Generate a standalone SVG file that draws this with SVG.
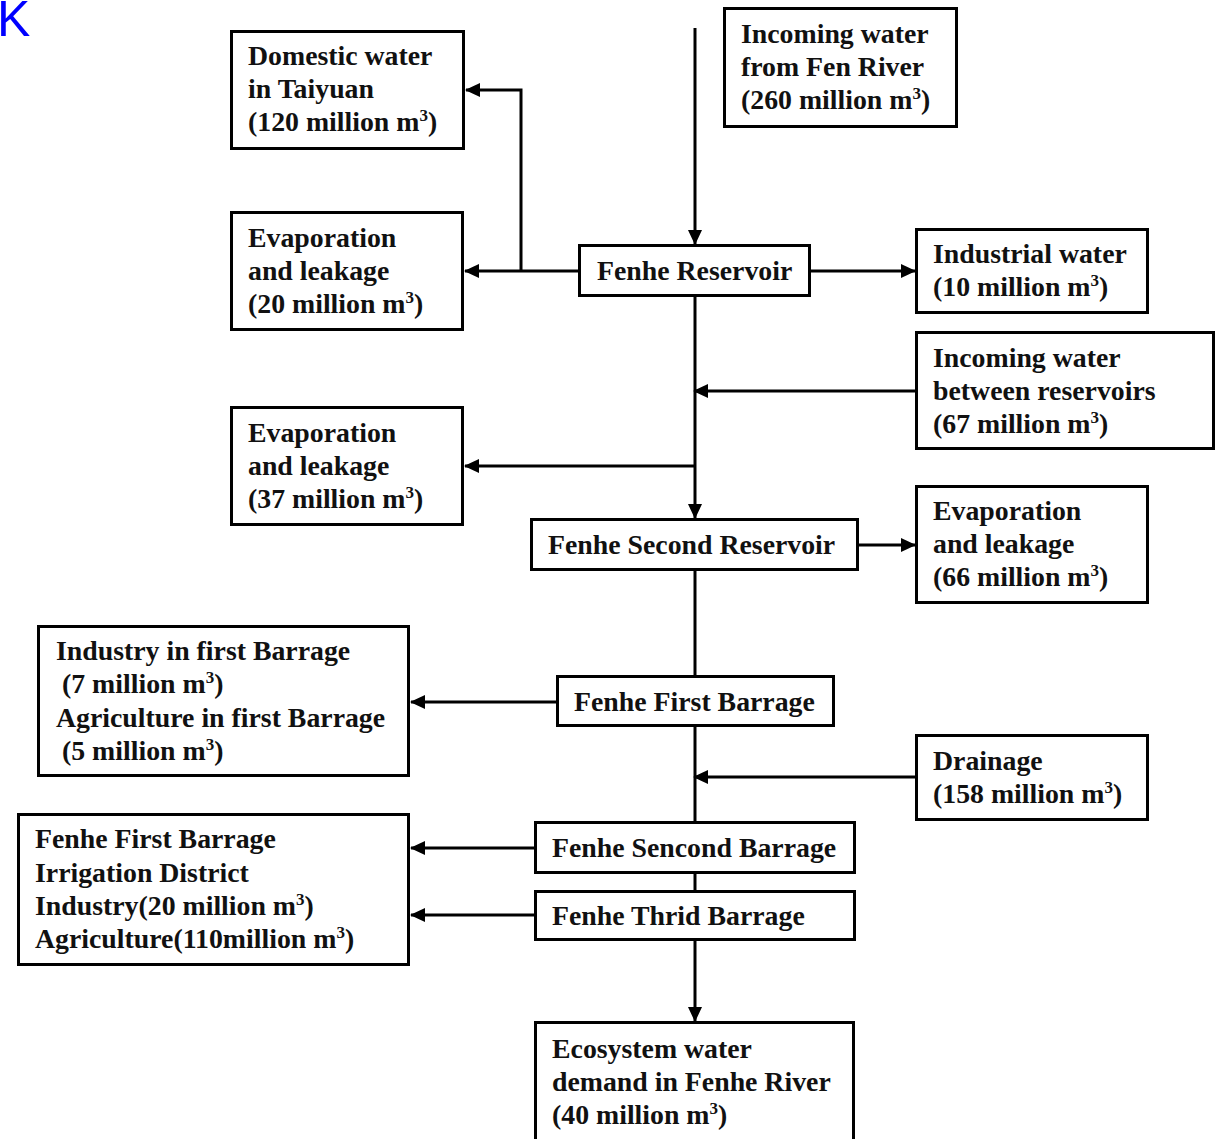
<svg xmlns="http://www.w3.org/2000/svg" width="1222" height="1139" viewBox="0 0 1222 1139">
  <style>
    .box { fill: #ffffff; stroke: #000000; stroke-width: 3; }
    .lbl { font-family: "Liberation Serif", "Times New Roman", serif; font-weight: bold; font-size: 27.8px; fill: #111111; }
    .sup { font-size: 17px; }
    .wire { fill: none; stroke: #000000; stroke-width: 3; }
    .tag { font-family: "Liberation Sans", Arial, sans-serif; font-size: 50px; fill: #0000ff; }
  </style>
  <defs>
    <marker id="head" markerUnits="userSpaceOnUse" markerWidth="16" markerHeight="14" refX="14" refY="7" orient="auto">
      <path d="M0,0 L15,7 L0,14 Z" fill="#000000"/>
    </marker>
  </defs>

  <rect width="1222" height="1139" fill="#ffffff"/>
  <text class="tag" x="-3" y="36">K</text>

  <!-- connectors -->
  <g id="connectors">
    <line class="wire" x1="695" y1="28" x2="695" y2="244" marker-end="url(#head)"/>
    <line class="wire" x1="579" y1="271" x2="465" y2="271" marker-end="url(#head)"/>
    <polyline class="wire" points="521,271 521,90 466,90" marker-end="url(#head)"/>
    <line class="wire" x1="810" y1="271" x2="915" y2="271" marker-end="url(#head)"/>
    <line class="wire" x1="695" y1="296" x2="695" y2="518" marker-end="url(#head)"/>
    <line class="wire" x1="916" y1="391" x2="694" y2="391" marker-end="url(#head)"/>
    <polyline class="wire" points="695,466 465,466" marker-end="url(#head)"/>
    <line class="wire" x1="858" y1="545" x2="915" y2="545" marker-end="url(#head)"/>
    <line class="wire" x1="695" y1="570" x2="695" y2="676"/>
    <line class="wire" x1="557" y1="702" x2="411" y2="702" marker-end="url(#head)"/>
    <line class="wire" x1="695" y1="726" x2="695" y2="822"/>
    <line class="wire" x1="916" y1="777" x2="694" y2="777" marker-end="url(#head)"/>
    <line class="wire" x1="535" y1="848" x2="411" y2="848" marker-end="url(#head)"/>
    <line class="wire" x1="695" y1="873" x2="695" y2="891"/>
    <line class="wire" x1="535" y1="915" x2="411" y2="915" marker-end="url(#head)"/>
    <line class="wire" x1="695" y1="940" x2="695" y2="1021" marker-end="url(#head)"/>
  </g>

  <g id="domestic-water">
    <rect class="box" x="231.5" y="31.5" width="232" height="117"/>
    <text class="lbl" x="248" y="65">Domestic water</text>
    <text class="lbl" x="248" y="98">in Taiyuan</text>
    <text class="lbl" x="248" y="131">(120 million m<tspan class="sup" dy="-10">3</tspan><tspan dy="10">)</tspan></text>
  </g>

  <g id="incoming-fen-river">
    <rect class="box" x="724.5" y="8.5" width="232" height="118"/>
    <text class="lbl" x="741" y="43">Incoming water</text>
    <text class="lbl" x="741" y="76">from Fen River</text>
    <text class="lbl" x="741" y="109">(260 million m<tspan class="sup" dy="-10">3</tspan><tspan dy="10">)</tspan></text>
  </g>

  <g id="evaporation-20">
    <rect class="box" x="231.5" y="212.5" width="231" height="117"/>
    <text class="lbl" x="248" y="247">Evaporation</text>
    <text class="lbl" x="248" y="280">and leakage</text>
    <text class="lbl" x="248" y="313">(20 million m<tspan class="sup" dy="-10">3</tspan><tspan dy="10">)</tspan></text>
  </g>

  <g id="fenhe-reservoir">
    <rect class="box" x="579.5" y="245.5" width="230" height="50"/>
    <text class="lbl" x="597" y="280">Fenhe Reservoir</text>
  </g>

  <g id="industrial-water">
    <rect class="box" x="916.5" y="229.5" width="231" height="83"/>
    <text class="lbl" x="933" y="263">Industrial water</text>
    <text class="lbl" x="933" y="296">(10 million m<tspan class="sup" dy="-10">3</tspan><tspan dy="10">)</tspan></text>
  </g>

  <g id="incoming-between">
    <rect class="box" x="916.5" y="332.5" width="297" height="116"/>
    <text class="lbl" x="933" y="367">Incoming water</text>
    <text class="lbl" x="933" y="400">between reservoirs</text>
    <text class="lbl" x="933" y="433">(67 million m<tspan class="sup" dy="-10">3</tspan><tspan dy="10">)</tspan></text>
  </g>

  <g id="evaporation-37">
    <rect class="box" x="231.5" y="407.5" width="231" height="117"/>
    <text class="lbl" x="248" y="442">Evaporation</text>
    <text class="lbl" x="248" y="475">and leakage</text>
    <text class="lbl" x="248" y="508">(37 million m<tspan class="sup" dy="-10">3</tspan><tspan dy="10">)</tspan></text>
  </g>

  <g id="fenhe-second-reservoir">
    <rect class="box" x="531.5" y="519.5" width="326" height="50"/>
    <text class="lbl" x="548" y="554">Fenhe Second Reservoir</text>
  </g>

  <g id="evaporation-66">
    <rect class="box" x="916.5" y="486.5" width="231" height="116"/>
    <text class="lbl" x="933" y="520">Evaporation</text>
    <text class="lbl" x="933" y="553">and leakage</text>
    <text class="lbl" x="933" y="586">(66 million m<tspan class="sup" dy="-10">3</tspan><tspan dy="10">)</tspan></text>
  </g>

  <g id="first-barrage-users">
    <rect class="box" x="38.5" y="626.5" width="370" height="149"/>
    <text class="lbl" x="56" y="660">Industry in first Barrage</text>
    <text class="lbl" x="62" y="693">(7 million m<tspan class="sup" dy="-10">3</tspan><tspan dy="10">)</tspan></text>
    <text class="lbl" x="56" y="727">Agriculture in first Barrage</text>
    <text class="lbl" x="62" y="760">(5 million m<tspan class="sup" dy="-10">3</tspan><tspan dy="10">)</tspan></text>
  </g>

  <g id="fenhe-first-barrage">
    <rect class="box" x="557.5" y="676.5" width="276" height="49"/>
    <text class="lbl" x="574" y="711">Fenhe First Barrage</text>
  </g>

  <g id="drainage">
    <rect class="box" x="916.5" y="735.5" width="231" height="84"/>
    <text class="lbl" x="933" y="770">Drainage</text>
    <text class="lbl" x="933" y="803">(158 million m<tspan class="sup" dy="-10">3</tspan><tspan dy="10">)</tspan></text>
  </g>

  <g id="irrigation-district">
    <rect class="box" x="18.5" y="814.5" width="390" height="150"/>
    <text class="lbl" x="35" y="848">Fenhe First Barrage</text>
    <text class="lbl" x="35" y="882">Irrigation District</text>
    <text class="lbl" x="35" y="915">Industry(20 million m<tspan class="sup" dy="-10">3</tspan><tspan dy="10">)</tspan></text>
    <text class="lbl" x="35" y="948">Agriculture(110million m<tspan class="sup" dy="-10">3</tspan><tspan dy="10">)</tspan></text>
  </g>

  <g id="fenhe-second-barrage">
    <rect class="box" x="535.5" y="822.5" width="319" height="50"/>
    <text class="lbl" x="552" y="857">Fenhe Sencond Barrage</text>
  </g>

  <g id="fenhe-third-barrage">
    <rect class="box" x="535.5" y="891.5" width="319" height="48"/>
    <text class="lbl" x="552" y="925">Fenhe Thrid Barrage</text>
  </g>

  <g id="ecosystem-demand">
    <rect class="box" x="535.5" y="1022.5" width="318" height="130"/>
    <text class="lbl" x="552" y="1058">Ecosystem water</text>
    <text class="lbl" x="552" y="1091">demand in Fenhe River</text>
    <text class="lbl" x="552" y="1124">(40 million m<tspan class="sup" dy="-10">3</tspan><tspan dy="10">)</tspan></text>
  </g>
</svg>
